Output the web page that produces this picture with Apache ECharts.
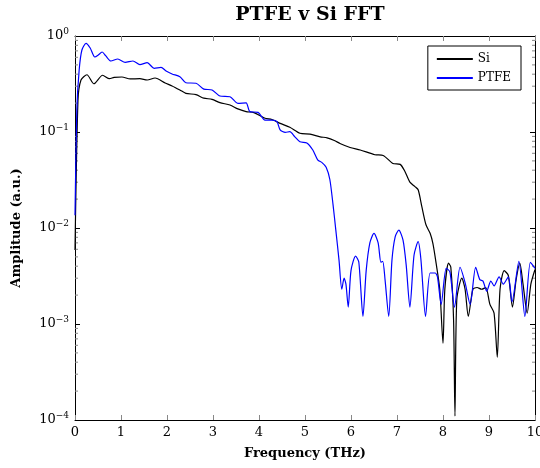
<!DOCTYPE html>
<html>
<head>
<meta charset="utf-8">
<script src="https://cdn.jsdelivr.net/npm/echarts@6/dist/echarts.min.js"></script>
<style>
  html, body { margin: 0; padding: 0; background: #fff; }
  #chart { width: 540px; height: 468px; }
</style>
</head>
<body>
<div id="chart"></div>
<script>
// values
const siFreq = [0, 0.065, 0.13, 0.26, 0.41, 0.60, 0.75, 0.85, 1.02, 1.2, 1.41, 1.57, 1.74, 1.96, 2.11,
  2.28, 2.41, 2.63, 2.80, 2.98, 3.15, 3.37, 3.54, 3.72, 3.89, 4.13, 4.28, 4.46, 4.67, 4.89, 5.11, 5.33,
  5.48, 5.65, 5.76, 5.98, 6.20, 6.52, 6.70, 6.91, 7.07, 7.17, 7.28, 7.39, 7.46, 7.54, 7.63, 7.72, 7.78,
  7.85, 7.93, 8.0, 8.04, 8.12, 8.17, 8.23, 8.26, 8.30, 8.41, 8.48, 8.55, 8.65, 8.74, 8.84, 8.93, 9.02,
  9.11, 9.18, 9.24, 9.33, 9.42, 9.51, 9.59, 9.67, 9.74, 9.83, 9.91, 10.0];
const siAmp = [0.0059, 0.215, 0.348, 0.395, 0.318, 0.390, 0.359, 0.371, 0.374, 0.357, 0.359, 0.348, 0.365,
  0.324, 0.302, 0.274, 0.253, 0.245, 0.225, 0.219, 0.202, 0.191, 0.174, 0.163, 0.159, 0.139, 0.135, 0.123,
  0.112, 0.097, 0.095, 0.089, 0.087, 0.081, 0.076, 0.069, 0.065, 0.058, 0.057, 0.047, 0.046, 0.039, 0.030,
  0.027, 0.025, 0.0167, 0.0108, 0.0088, 0.0069, 0.0043, 0.0023, 0.00063, 0.0023, 0.0043, 0.0039, 0.0011,
  0.00011, 0.0018, 0.0030, 0.0023, 0.0012, 0.0023, 0.0024, 0.0023, 0.0024, 0.0016, 0.0013, 0.00045, 0.0023,
  0.0036, 0.0032, 0.0015, 0.0029, 0.0043, 0.0026, 0.0013, 0.0026, 0.0037];

const ptfeFreq = [0, 0.04, 0.09, 0.15, 0.24, 0.33, 0.43, 0.5, 0.59, 0.67, 0.78, 0.93, 1.09, 1.26, 1.41,
  1.57, 1.72, 1.87, 1.98, 2.11, 2.28, 2.41, 2.63, 2.80, 2.98, 3.15, 3.37, 3.54, 3.72, 3.80, 3.98, 4.13,
  4.28, 4.39, 4.46, 4.57, 4.67, 4.78, 4.89, 5.04, 5.17, 5.28, 5.37, 5.46, 5.54, 5.61, 5.67, 5.74, 5.80,
  5.85, 5.89, 5.94, 6.0, 6.10, 6.17, 6.26, 6.33, 6.41, 6.50, 6.59, 6.65, 6.69, 6.74, 6.82, 6.89, 6.96,
  7.04, 7.13, 7.20, 7.28, 7.37, 7.46, 7.52, 7.62, 7.72, 7.83, 7.88, 7.96, 8.07, 8.15, 8.25, 8.37, 8.48,
  8.59, 8.71, 8.80, 8.87, 8.95, 9.04, 9.11, 9.22, 9.31, 9.42, 9.50, 9.65, 9.78, 9.90, 10.0];
const ptfeAmp = [0.0136, 0.17, 0.44, 0.715, 0.839, 0.75, 0.604, 0.63, 0.681, 0.62, 0.549, 0.576, 0.532,
  0.549, 0.503, 0.527, 0.461, 0.472, 0.432, 0.402, 0.377, 0.326, 0.322, 0.280, 0.274, 0.237, 0.233, 0.199,
  0.201, 0.163, 0.160, 0.133, 0.133, 0.128, 0.105, 0.099, 0.101, 0.089, 0.079, 0.077, 0.065, 0.051, 0.048,
  0.043, 0.032, 0.0174, 0.0095, 0.0046, 0.0023, 0.0030, 0.0026, 0.0015, 0.0036, 0.0051, 0.0044, 0.0012,
  0.0036, 0.0070, 0.0088, 0.0070, 0.0044, 0.0045, 0.0029, 0.0012, 0.0046, 0.0081, 0.0095, 0.0075, 0.0041,
  0.0015, 0.0052, 0.0072, 0.0047, 0.0012, 0.0034, 0.0034, 0.0031, 0.0016, 0.0038, 0.0035, 0.0015, 0.0039,
  0.0027, 0.0016, 0.0039, 0.0029, 0.0028, 0.0022, 0.0028, 0.0025, 0.0031, 0.0026, 0.0031, 0.0017, 0.0045,
  0.0012, 0.0044, 0.0038];

const xTicks = [0, 1, 2, 3, 4, 5, 6, 7, 8, 9, 10];
const decades = [-4, -3, -2, -1];
const minorMantissa = [2, 3, 4, 5, 6, 7, 8, 9];

const serif = '"DejaVu Serif", serif';

const zip = (xs, ys) => xs.map((x, i) => [x, ys[i]]);

// minor tick values on the log axis
const minorVals = [];
decades.forEach(d => minorMantissa.forEach(m => minorVals.push([0, m * Math.pow(10, d)])));

const chart = echarts.init(document.getElementById('chart'));

const axisLine = { show: true, onZero: false, lineStyle: { color: '#000', width: 1 } };

chart.setOption({
  animation: false,
  backgroundColor: '#fff',
  title: {
    text: 'PTFE v Si FFT',
    left: 305, top: 1, textAlign: 'center',
    textStyle: { fontFamily: serif, fontWeight: 'bold', fontSize: 19, color: '#000' }
  },
  legend: {
    data: ['Si', 'PTFE'],
    orient: 'vertical',
    right: 19, top: 46,
    borderColor: '#000', borderWidth: 1, borderRadius: 0,
    padding: [7, 10, 6, 8],
    itemGap: 7, itemWidth: 36, itemHeight: 2,
    textStyle: { fontFamily: serif, fontSize: 12, color: '#000' }
  },
  grid: { left: 75, right: 5, top: 36, bottom: 48, outerBoundsMode: 'none' },
  xAxis: [
    {
      type: 'value', min: 0, max: 10, interval: 1,
      name: 'Frequency (THz)', nameLocation: 'middle', nameGap: 27,
      nameTextStyle: { fontFamily: serif, fontWeight: 'bold', fontSize: 13, color: '#000' },
      axisLine: axisLine,
      axisTick: { inside: true, length: 5, lineStyle: { color: '#888' } },
      axisLabel: { fontFamily: serif, fontSize: 13, color: '#000', margin: 6,
        formatter: v => xTicks.includes(v) ? String(v) : '' },
      splitLine: { show: false }
    },
    {
      type: 'value', min: 0, max: 10, interval: 1, position: 'top',
      axisLine: axisLine,
      axisTick: { inside: true, length: 5, lineStyle: { color: '#888' } },
      axisLabel: { show: false },
      splitLine: { show: false }
    }
  ],
  yAxis: [
    {
      type: 'log', logBase: 10, min: 1e-4, max: 1,
      name: 'Amplitude (a.u.)', nameLocation: 'middle', nameGap: 52,
      nameTextStyle: { fontFamily: serif, fontWeight: 'bold', fontSize: 13, color: '#000' },
      axisLine: axisLine,
      axisTick: { inside: true, length: 5, lineStyle: { color: '#000' } },
      axisLabel: {
        margin: 6, color: '#000',
        formatter: v => '10{sup|' + (Math.round(Math.log10(v)) === 0 ? '0' : '\u2212' + (-Math.round(Math.log10(v)))) + '}',
        rich: {
          sup: { fontFamily: serif, fontSize: 9, verticalAlign: 'top', padding: [0, 0, 8, 0], color: '#000' }
        },
        fontFamily: serif, fontSize: 13
      },
      splitLine: { show: false }
    },
    {
      type: 'log', logBase: 10, min: 1e-4, max: 1, position: 'right',
      axisLine: axisLine,
      axisTick: { inside: true, length: 5, lineStyle: { color: '#000' } },
      axisLabel: { show: false },
      splitLine: { show: false }
    }
  ],
  series: [
    {
      name: 'Si', type: 'line', data: zip(siFreq, siAmp),
      symbol: 'none', smooth: 0.25, clip: true,
      lineStyle: { color: '#000', width: 1.2 }, itemStyle: { color: '#000' }
    },
    {
      name: 'PTFE', type: 'line', data: zip(ptfeFreq, ptfeAmp),
      symbol: 'none', smooth: 0.25, clip: true,
      lineStyle: { color: '#0000ff', width: 1.2 }, itemStyle: { color: '#0000ff' }
    },
    {
      // minor log ticks on left and right frame
      type: 'custom', silent: true, data: minorVals,
      renderItem: (params, api) => {
        const left = api.coord([0, api.value(1)]);
        const right = api.coord([10, api.value(1)]);
        const style = { stroke: '#888', lineWidth: 1 };
        return {
          type: 'group',
          children: [
            { type: 'line', shape: { x1: left[0], y1: left[1], x2: left[0] + 3, y2: left[1] }, style },
            { type: 'line', shape: { x1: right[0], y1: right[1], x2: right[0] - 3, y2: right[1] }, style }
          ]
        };
      }
    }
  ]
});
</script>
</body>
</html>
